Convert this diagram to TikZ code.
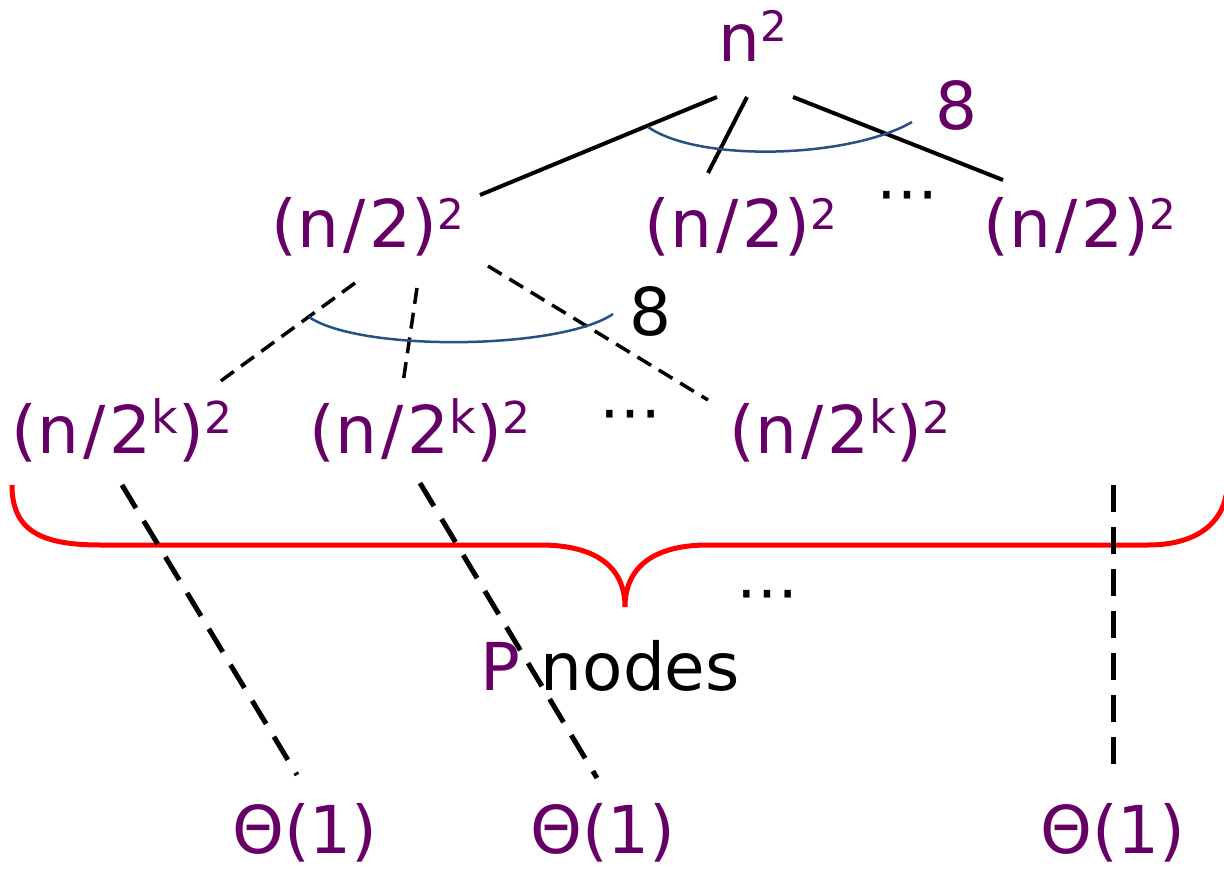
\documentclass[tikz,border=0pt]{standalone}
\usepackage{fontspec}
\setmainfont{DejaVu Sans}
\definecolor{TermClr}{RGB}{102,0,102}
\definecolor{ArcClr}{RGB}{40,80,130}
\newcommand\pw[3]{\raisebox{#1pt}{\fontsize{#2}{#2}\selectfont #3}}
\newcommand\slsh{\kern4pt/\kern4pt}

\begin{document}
\begin{tikzpicture}[x=1pt,y=-1pt,
  term/.style={text=TermClr,inner sep=0pt,anchor=base,font=\fontsize{66}{70}\selectfont},
  note/.style={inner sep=0pt,anchor=base,font=\fontsize{66}{70}\selectfont},
  dotsnode/.style={inner sep=0pt,font=\fontsize{62}{66}\selectfont},
  edge/.style={line width=4pt},
  subedge/.style={line width=3.5pt,dash pattern=on 16pt off 9pt},
  leafedge/.style={line width=5pt,dash pattern=on 27pt off 15pt},
  fan/.style={line width=2.5pt,color=ArcClr}]
\useasboundingbox (0,0) rectangle (1224,869);

\node[term] (root) at (753,62) {n\pw{20}{42}{2}};

\node[term] (h1) at (368,248) {(n\slsh2)\pw{19}{42}{2}};
\node[term] (h2) at (741,248) {(n\slsh2)\pw{19}{42}{2}};
\node[term] (h3) at (1080,248) {(n\slsh2)\pw{19}{42}{2}};
\node[dotsnode] (hdots) at (907,203) {⋯};

\node[term] (k1) at (122,453) {(n\slsh2\pw{20}{46}{k})\pw{20}{44}{2}};
\node[term] (k2) at (420,453) {(n\slsh2\pw{20}{46}{k})\pw{20}{44}{2}};
\node[term] (k3) at (840,453) {(n\slsh2\pw{20}{46}{k})\pw{20}{44}{2}};
\node[dotsnode] (kdots) at (630,422) {⋯};

\node[term] (t1) at (305,853) {Θ(1)};
\node[term] (t2) at (603,853) {Θ(1)};
\node[term] (t3) at (1113,853) {Θ(1)};
\node[dotsnode] (tdots) at (767,602) {⋯};

\node[term] (fan1) at (956,130) {8};
\node[note] (fan2) at (650,335) {8};
\node[note] (count) at (610,690) {\textcolor{TermClr}{P} nodes};

\coordinate (r1) at (717,97);  \coordinate (a1) at (480,195);
\coordinate (r2) at (747,97);  \coordinate (a2) at (708,173);
\coordinate (r3) at (793,97);  \coordinate (a3) at (1003,180);
\coordinate (s1) at (355,283); \coordinate (b1) at (218,383);
\coordinate (s2) at (417,288); \coordinate (b2) at (403,383);
\coordinate (s3) at (488,266); \coordinate (b3) at (708,400);
\coordinate (u1) at (122,485); \coordinate (c1) at (297,775);
\coordinate (u2) at (420,483); \coordinate (c2) at (597,778);
\coordinate (u3) at (1113,485); \coordinate (c3) at (1113,778);

\draw[red,line width=5pt] (12,485) .. controls (12,530) and (40,545) .. (100,545) -- (540,545)
  .. controls (600,545) and (625,570) .. (625,607) .. controls (625,570) and (650,545) .. (708,545)
  -- (1148,545) .. controls (1200,545) and (1222,520) .. (1226,495);

\draw[edge] (r1) -- (a1);
\draw[edge] (r2) -- (a2);
\draw[edge] (r3) -- (a3);
\draw[subedge] (s1) -- (b1);
\draw[subedge] (s2) -- (b2);
\draw[subedge] (s3) -- (b3);
\draw[leafedge] (u1) -- (c1);
\draw[leafedge] (u2) -- (c2);
\draw[leafedge] (u3) -- (c3);

\draw[fan] (648,127) .. controls (700,163) and (850,158) .. (912,122);
\draw[fan] (309,317) .. controls (360,352) and (560,350) .. (613,314);

\end{tikzpicture}
\end{document}
